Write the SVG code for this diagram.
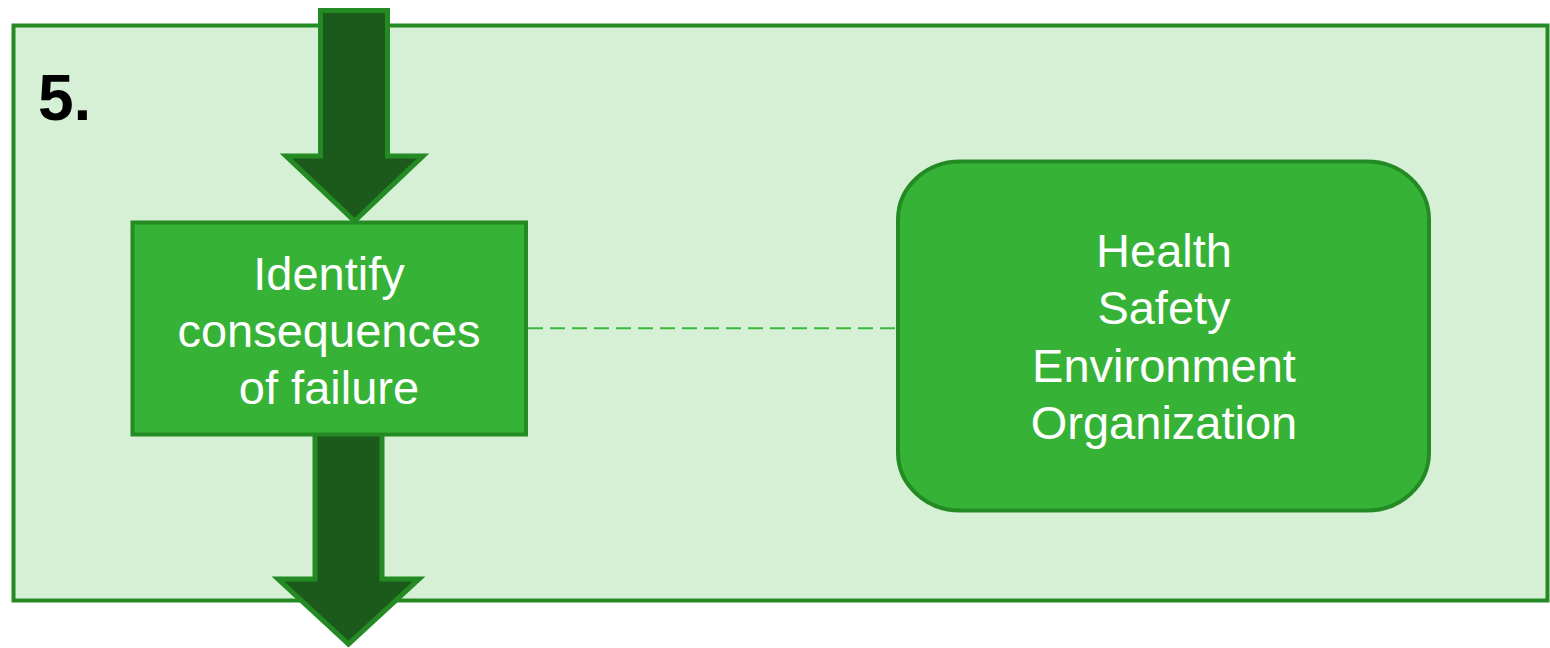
<svg xmlns="http://www.w3.org/2000/svg" width="1550" height="648" viewBox="0 0 1550 648">
  <style>
    .panel { fill: #d5f0d5; stroke: #248a24; stroke-width: 4; }
    .box { fill: #36b336; stroke: #248a24; stroke-width: 4; }
    .flow { fill: #1c5a1c; stroke: #248a24; stroke-width: 5; stroke-linejoin: miter; }
    .link { fill: none; stroke: #3cb83c; stroke-width: 2; stroke-dasharray: 15 7; }
    .label { font-family: "Liberation Sans", Arial, sans-serif; font-size: 47px; fill: #ffffff; text-anchor: middle; }
    .step { font-family: "Liberation Sans", Arial, sans-serif; font-size: 64px; font-weight: bold; fill: #000000; }
  </style>

  <!-- step panel -->
  <g id="panel">
    <rect class="panel" x="13.5" y="25.5" width="1534" height="575"/>
    <text class="step" x="38" y="120">5.</text>
  </g>

  <!-- flow arrows and dashed link -->
  <g id="connectors">
    <path class="flow" d="M320.5,10.5 H387.5 V156 H423 L354.5,221 L286,156 H320.5 Z"/>
    <path class="flow" d="M315,420 H382 V579 H419 L348.5,644 L278,579 H315 Z"/>
    <line class="link" x1="528" y1="328.3" x2="896" y2="328.3"/>
  </g>

  <!-- process step -->
  <g id="identify-consequences">
    <rect class="box" x="132.5" y="222.5" width="393.5" height="212"/>
    <text class="label" x="329" y="289.5">Identify</text>
    <text class="label" x="329" y="346.5">consequences</text>
    <text class="label" x="329" y="403.5">of failure</text>
  </g>

  <!-- consequence categories -->
  <g id="consequence-categories">
    <rect class="box" x="898" y="161.5" width="531" height="349" rx="62" ry="58"/>
    <text class="label" x="1164" y="266.5">Health</text>
    <text class="label" x="1164" y="324">Safety</text>
    <text class="label" x="1164" y="381.5">Environment</text>
    <text class="label" x="1164" y="439">Organization</text>
  </g>
</svg>
